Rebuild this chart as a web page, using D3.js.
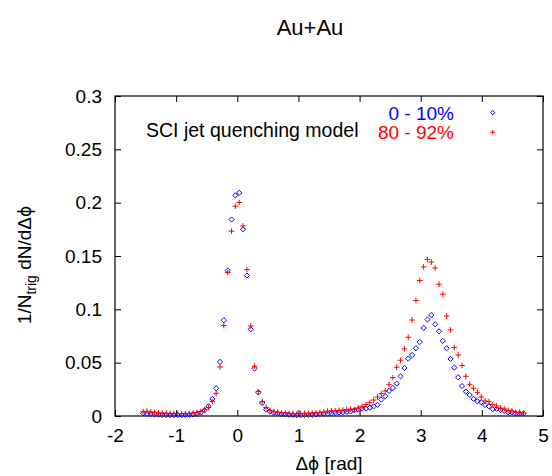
<!DOCTYPE html>
<html>
<head>
<meta charset="utf-8">
<script src="https://cdn.jsdelivr.net/npm/d3@7/dist/d3.min.js"></script>
<style>
  html, body { margin: 0; padding: 0; background: #fff; }
  svg { display: block; }
  text { font-family: "Liberation Sans", Arial, Helvetica, sans-serif; }
</style>
</head>
<body>
<svg id="chart" width="552" height="476"></svg>
<script>
// ---- data ----
const nBins = 100;
const binStart = -Math.PI / 2;
const binWidth = 2 * Math.PI / nBins;
const binCenters = d3.range(nBins).map(i => binStart + (i + 0.5) * binWidth);

// 0 - 10% (blue diamonds)
const central = [
  0.0025, 0.0020, 0.0018, 0.0015, 0.0012, 0.0010, 0.0010, 0.0008, 0.0008, 0.0010,
  0.0010, 0.0010, 0.0012, 0.0015, 0.0020, 0.0030, 0.0053, 0.0091, 0.0160, 0.0260,
  0.0507, 0.0898, 0.1364, 0.1842, 0.2068, 0.2092, 0.1751, 0.1317, 0.0813, 0.0445,
  0.0220, 0.0122, 0.0060, 0.0041, 0.0030, 0.0023, 0.0018, 0.0015, 0.0012, 0.0010,
  0.0008, 0.0008, 0.0010, 0.0010, 0.0012, 0.0015, 0.0018, 0.0020, 0.0022, 0.0025,
  0.0030, 0.0033, 0.0036, 0.0039, 0.0042, 0.0053, 0.0060, 0.0068, 0.0070, 0.0078,
  0.0091, 0.0105, 0.0154, 0.0185, 0.0235, 0.0263, 0.0304, 0.0372, 0.0450, 0.0538,
  0.0572, 0.0635, 0.0694, 0.0826, 0.0904, 0.0946, 0.0860, 0.0794, 0.0704, 0.0635,
  0.0535, 0.0454, 0.0363, 0.0281, 0.0229, 0.0197, 0.0160, 0.0138, 0.0129, 0.0103,
  0.0091, 0.0063, 0.0066, 0.0056, 0.0047, 0.0035, 0.0035, 0.0023, 0.0023, 0.0023
];

// 80 - 92% (red crosses)
const peripheral = [
  0.0040, 0.0045, 0.0038, 0.0035, 0.0030, 0.0028, 0.0025, 0.0025, 0.0022, 0.0022,
  0.0022, 0.0022, 0.0025, 0.0028, 0.0033, 0.0042, 0.0060, 0.0080, 0.0135, 0.0213,
  0.0460, 0.0848, 0.1345, 0.1733, 0.1967, 0.2002, 0.1782, 0.1373, 0.0844, 0.0466,
  0.0229, 0.0135, 0.0080, 0.0050, 0.0040, 0.0035, 0.0030, 0.0028, 0.0025, 0.0022,
  0.0022, 0.0022, 0.0025, 0.0025, 0.0028, 0.0030, 0.0033, 0.0038, 0.0045, 0.0048,
  0.0050, 0.0053, 0.0056, 0.0060, 0.0065, 0.0060, 0.0075, 0.0090, 0.0108, 0.0125,
  0.0150, 0.0178, 0.0210, 0.0235, 0.0297, 0.0360, 0.0457, 0.0523, 0.0629, 0.0738,
  0.0900, 0.1083, 0.1270, 0.1398, 0.1467, 0.1442, 0.1388, 0.1235, 0.1142, 0.0938,
  0.0807, 0.0642, 0.0572, 0.0473, 0.0372, 0.0297, 0.0260, 0.0222, 0.0178, 0.0141,
  0.0135, 0.0107, 0.0094, 0.0075, 0.0066, 0.0053, 0.0047, 0.0035, 0.0035, 0.0028
];

const xTicks = [-2, -1, 0, 1, 2, 3, 4, 5];
const xTickLabels = ["-2", "-1", "0", "1", "2", "3", "4", "5"];
const yTicks = [0, 0.05, 0.1, 0.15, 0.2, 0.25, 0.3];
const yTickLabels = ["0", "0.05", "0.1", "0.15", "0.2", "0.25", "0.3"];
const seriesNames = ["0 - 10%", "80 - 92%"];
const seriesColors = ["#0000ff", "#ff0000"];

// ---- layout ----
const svg = d3.select("#chart");
const L = 115, R = 543, T = 96, B = 416;
const x = d3.scaleLinear().domain([-2, 5]).range([L, R]);
const y = d3.scaleLinear().domain([0, 0.3]).range([B, T]);
const fs = 19;
const phiFont = "'DejaVu Sans', sans-serif";

// title
svg.append("text").attr("x", 310).attr("y", 35).attr("text-anchor", "middle")
  .attr("font-size", 22).text("Au+Au");

// axes (ticks inward on all sides)
const gB = svg.append("g").attr("transform", `translate(0,${B})`)
  .call(d3.axisBottom(x).tickValues(xTicks).tickSize(-6).tickPadding(13)
    .tickFormat((d, i) => xTickLabels[i]));
const gT = svg.append("g").attr("transform", `translate(0,${T})`)
  .call(d3.axisTop(x).tickValues(xTicks).tickSize(-6).tickFormat(""));
const gL = svg.append("g").attr("transform", `translate(${L},0)`)
  .call(d3.axisLeft(y).tickValues(yTicks).tickSize(-6).tickPadding(13)
    .tickFormat((d, i) => yTickLabels[i]));
const gR = svg.append("g").attr("transform", `translate(${R},0)`)
  .call(d3.axisRight(y).tickValues(yTicks).tickSize(-6).tickFormat(""));
[gB, gT, gL, gR].forEach(g => {
  g.select(".domain").remove();
  g.selectAll(".tick line").attr("stroke", "#000").attr("stroke-width", 1);
  g.selectAll(".tick text").attr("font-size", fs).attr("fill", "#000")
    .attr("font-family", "'Liberation Sans', Arial, sans-serif");
});

// frame
svg.append("rect").attr("x", L).attr("y", T).attr("width", R - L).attr("height", B - T)
  .attr("fill", "none").attr("stroke", "#000").attr("stroke-width", 1.2);

// axis labels
const xl = svg.append("text").attr("x", 329).attr("y", 470).attr("text-anchor", "middle")
  .attr("font-size", fs);
xl.append("tspan").text("Δ");
xl.append("tspan").attr("font-family", phiFont).attr("font-size", fs - 2).text("ϕ");
xl.append("tspan").text(" [rad]");

const yl = svg.append("text").attr("transform", "translate(31,265) rotate(-90)")
  .attr("text-anchor", "middle").attr("font-size", fs);
yl.append("tspan").text("1/N");
yl.append("tspan").attr("font-size", 14).attr("dy", 5).text("trig");
yl.append("tspan").attr("dy", -5).text(" dN/dΔ");
yl.append("tspan").attr("font-family", phiFont).attr("font-size", fs - 2).text("ϕ");

// markers
const diamond = (cx, cy, r) => `M${cx},${cy - r}L${cx + r},${cy}L${cx},${cy + r}L${cx - r},${cy}Z`;
const plus = (cx, cy, r) => `M${cx - r},${cy}H${cx + r}M${cx},${cy - r}V${cy + r}`;

const plot = svg.append("g");
plot.selectAll("path.c").data(central).join("path").attr("class", "c")
  .attr("d", (d, i) => diamond(x(binCenters[i]), y(d), 2.6))
  .attr("fill", "none").attr("stroke", seriesColors[0]).attr("stroke-width", 1);
plot.selectAll("path.p").data(peripheral).join("path").attr("class", "p")
  .attr("d", (d, i) => plus(x(binCenters[i]), y(d), 2.8))
  .attr("fill", "none").attr("stroke", seriesColors[1]).attr("stroke-width", 1);

// legend
svg.append("text").attr("x", 146).attr("y", 137).attr("font-size", 19.5)
  .text("SCI jet quenching model");
svg.append("text").attr("x", 454).attr("y", 119.5).attr("text-anchor", "end")
  .attr("font-size", 19).attr("fill", seriesColors[0]).text(seriesNames[0]);
svg.append("text").attr("x", 454).attr("y", 139).attr("text-anchor", "end")
  .attr("font-size", 19).attr("fill", seriesColors[1]).text(seriesNames[1]);
svg.append("path").attr("d", diamond(492.7, 112.7, 2.2)).attr("fill", "none")
  .attr("stroke", seriesColors[0]).attr("stroke-width", 1);
svg.append("path").attr("d", plus(492.7, 132.3, 2.4)).attr("fill", "none")
  .attr("stroke", seriesColors[1]).attr("stroke-width", 1);
</script>
</body>
</html>
